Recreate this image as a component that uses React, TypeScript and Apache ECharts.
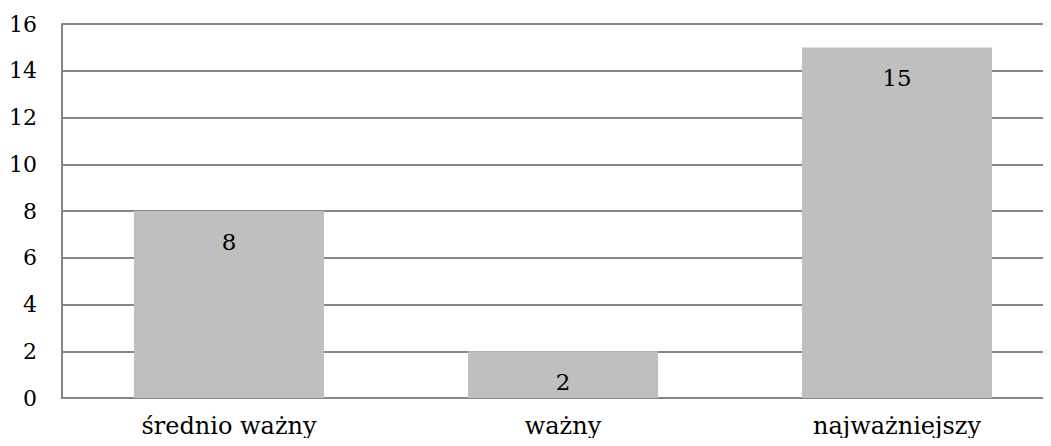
import React, { useEffect, useRef } from "react";
import * as echarts from "echarts";

const categories = ["średnio ważny", "ważny", "najważniejszy"];
const values = [8, 2, 15];
const yMin = 0;
const yMax = 16;
const yInterval = 2;

export default function App() {
  const ref = useRef<HTMLDivElement>(null);
  useEffect(() => {
    if (!ref.current) return;
    const chart = echarts.init(ref.current, undefined, { renderer: "svg" });
    const font = "'DejaVu Serif', serif";
    chart.setOption({
      animation: false,
      grid: { left: 62, right: 0, top: 24, bottom: 48, containLabel: false },
      xAxis: {
        type: "category",
        data: categories,
        axisLine: { lineStyle: { color: "#868686", width: 2 } },
        axisTick: { show: false },
        axisLabel: { color: "#000", fontFamily: font, fontSize: 24, margin: 16 },
      },
      yAxis: {
        type: "value",
        min: yMin,
        max: yMax,
        interval: yInterval,
        axisLine: { show: true, lineStyle: { color: "#868686", width: 2 } },
        axisTick: { show: false },
        splitLine: { lineStyle: { color: "#868686", width: 2 } },
        axisLabel: { color: "#000", fontFamily: font, fontSize: 22, margin: 25 },
      },
      series: [
        {
          type: "bar",
          data: values,
          barWidth: 190,
          itemStyle: { color: "#BFBFBF" },
          label: {
            show: true,
            position: "insideTop",
            distance: 19,
            color: "#000",
            fontFamily: font,
            fontSize: 23,
          },
        },
      ],
    });
    return () => chart.dispose();
  }, []);
  return (
    <div style={{ width: 1051, height: 446, margin: -8, overflow: "hidden", position: "relative" }}>
      <div ref={ref} style={{ width: 1064, height: 446 }} />
    </div>
  );
}
